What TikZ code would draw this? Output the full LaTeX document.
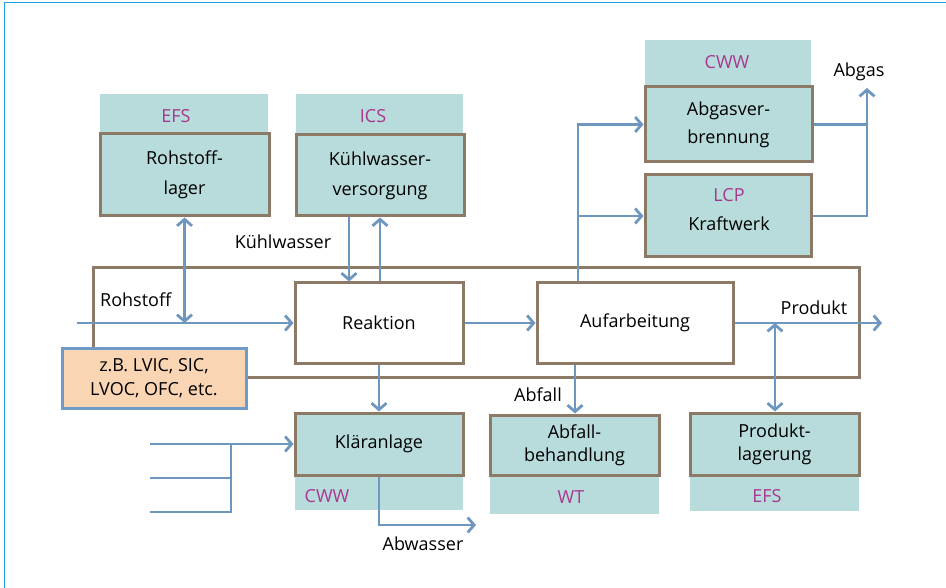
\documentclass[tikz,border=0pt]{standalone}
\usepackage{fontspec}
\setmainfont{Open Sans}
\usetikzlibrary{arrows.meta}
\definecolor{teal1}{HTML}{B8DCDB}
\definecolor{brwn}{HTML}{8C7A67}
\definecolor{ablue}{HTML}{6E97BF}
\definecolor{mag}{HTML}{A8378F}
\definecolor{orng}{HTML}{FAD5B4}
\definecolor{zbblue}{HTML}{6E9BC8}
\definecolor{edge}{HTML}{1BA1E2}
\tikzset{
  band/.style={fill=teal1, draw=none, inner sep=0pt},
  tbox/.style={fill=teal1, draw=brwn, line width=3pt, inner sep=0pt, align=center,
    font=\fontsize{18}{30}\selectfont},
  tboxlow/.style={tbox, font=\fontsize{18}{23}\selectfont},
  wbox/.style={fill=white, draw=brwn, line width=3pt, inner sep=0pt, font=\fontsize{18}{22}\selectfont},
  lbl/.style={font=\fontsize{18}{22}\selectfont, inner sep=0pt},
  mlbl/.style={lbl, text=mag},
  flow/.style={draw=ablue, line width=2.8pt},
  arr/.style={flow, -{Straight Barb[length=6.5pt,width=15pt]}},
  arrb/.style={flow, {Straight Barb[length=6.5pt,width=15pt]}-{Straight Barb[length=6.5pt,width=15pt]}},
}
\begin{document}
\begin{tikzpicture}[x=1pt,y=-1pt]
\useasboundingbox (0,0) rectangle (946,588);
% page border
\draw[edge, line width=1.5pt] (4.5,588) -- (4.5,2.5) -- (946,2.5);

% coloured bands
\node[band, minimum width=168, minimum height=40] (b1) at (184,114) {};
\node[mlbl] (efs1) at (176,116) {EFS};
\node[band, minimum width=167, minimum height=41] (b2) at (379.5,114.5) {};
\node[mlbl] (ics) at (373,116) {ICS};
\node[band, minimum width=166, minimum height=47] (b3) at (728,63.5) {};
\node[mlbl] (cww1) at (727,62) {CWW};
\node[band, minimum width=168, minimum height=36] (b4) at (379,492) {};
\node[mlbl] (cww2) at (327,496) {CWW};
\node[band, minimum width=169, minimum height=40] (b5) at (574.5,494) {};
\node[mlbl] (wt) at (571,497) {WT};
\node[band, minimum width=169, minimum height=37] (b6) at (774.5,492.5) {};
\node[mlbl] (efs2) at (767,496) {EFS};

% boxes
\node[tbox, minimum width=169, minimum height=82] (lager) at (184.5,175) {Rohstoff-\\lager};
\node[tbox, minimum width=168, minimum height=81] (kuehl) at (380,175.5) {Kühlwasser-\\versorgung};
\node[tbox, minimum width=167, minimum height=75, font=\fontsize{18}{28}\selectfont] (abgas) at (728.5,124.5) {Abgasver-\\brennung};
\node[tbox, minimum width=166, minimum height=82] (kraft) at (728,216) {};
\node[tbox, draw=none, fill=none, font=\fontsize{18}{29}\selectfont] (kraftT) at (729,209.5) {\textcolor{mag}{LCP}\\Kraftwerk};

% process frame
\node[draw=brwn, line width=3pt, minimum width=766, minimum height=109, inner sep=0pt] (frame) at (476,322.5) {};

\node[wbox, minimum width=168, minimum height=80] (reakt) at (379,323) {Reaktion};
\node[wbox, minimum width=196, minimum height=80] (aufarb) at (635,323) {Aufarbeitung};

\node[fill=orng, draw=zbblue, line width=3pt, minimum width=184, minimum height=59, inner sep=0pt,
  align=center, font=\fontsize{18}{24}\selectfont] (zb) at (154,378.5) {z.B. LVIC, SIC,\\LVOC, OFC, etc.\hspace*{0pt}};

\node[tboxlow, minimum width=168, minimum height=62] (klaer) at (379,444) {Kläranlage};
\node[tboxlow, minimum width=169, minimum height=60] (abfb) at (574.5,445) {Abfall-\\behandlung};
\node[tboxlow, minimum width=169, minimum height=62] (prodl) at (774.5,444) {Produkt-\\lagerung};

% text labels
\node[lbl, anchor=west] (lrohst) at (100,300) {Rohstoff};
\node[lbl] (lkw) at (283,242) {Kühlwasser};
\node[lbl] (labgas) at (859,72) {Abgas};
\node[lbl] (lprod) at (814,308) {Produkt};
\node[lbl] (labf) at (538,395) {Abfall};
\node[lbl] (labw) at (423,544) {Abwasser};

% coordinates
\coordinate (rin) at (77,323);
\coordinate (rx) at (184.5,0);
\coordinate (kx1) at (349,0);
\coordinate (kx2) at (380,0);
\coordinate (ax) at (578,0);
\coordinate (gx) at (867,0);
\coordinate (gtop) at (867,88);
\coordinate (fx) at (575,0);
\coordinate (px) at (775,0);
\coordinate (pout) at (882,323);
\coordinate (in1) at (150,444);
\coordinate (in2) at (150,478);
\coordinate (in3) at (150,512);
\coordinate (jx) at (231,444);
\coordinate (aw) at (476,525);

% connectors
\draw[arr] (rin) -- (reakt.west);
\draw[arrb] (lager.south) -- (rx |- reakt.west);
\draw[arr] (kuehl.south -| kx1) -- (reakt.north -| kx1);
\draw[arr] (reakt.north -| kx2) -- (kuehl.south -| kx2);
\draw[arr] (reakt.east) -- (aufarb.west);
\draw[arr] (aufarb.east) -- (pout);
\draw[arr] (aufarb.north -| ax) |- (abgas.west);
\draw[arr] (ax |- kraft.west) -- (kraft.west);
\draw[flow] (abgas.east) -- (abgas.east -| gx);
\draw[arr] (kraft.east) -| (gtop);
\draw[arr] (aufarb.south -| fx) -- (abfb.north -| fx);
\draw[arrb] (prodl.north -| px) -- (px |- aufarb.east);
\draw[arr] (reakt.south) -- (klaer.north);
\draw[arr] (in1) -- (klaer.west);
\draw[flow] (in3) -| (jx);
\draw[flow] (in2) -- (in2 -| jx);
\draw[arr] (klaer.south) |- (aw);
\end{tikzpicture}
\end{document}
